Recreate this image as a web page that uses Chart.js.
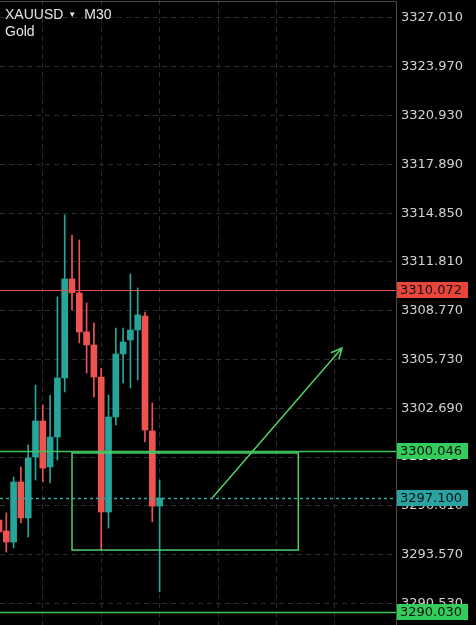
<!DOCTYPE html>
<html>
<head>
<meta charset="utf-8">
<script src="https://cdn.jsdelivr.net/npm/chart.js@4.4.1/dist/chart.umd.min.js"></script>
<style>
    html, body { margin: 0; padding: 0; background: #000; }
    #wrap { position: relative; width: 476px; height: 625px; }
    #title {
        position: absolute; left: 5px; top: 6px;
        color: #e6e6e6; font: 14px 'Liberation Sans', sans-serif; line-height: 17px;
    }
    #title .caret { font-size: 8px; vertical-align: 2px; margin: 0 8px 0 5px; }
</style>
</head>
<body>
<div id="wrap">
    <canvas id="chart"></canvas>
    <div id="title">XAUUSD<span class="caret">▼</span>M30<br>Gold</div>
</div>
<script>
// XAUUSD M30 candles
const opens  = [3295.73, 3295.05, 3294.36, 3298.10, 3295.86, 3299.66, 3301.90, 3299.04, 3300.90, 3304.58, 3310.75, 3309.88,
                3307.45, 3306.64, 3304.64, 3296.23, 3302.15, 3306.08, 3306.95, 3307.57, 3308.44, 3301.28, 3296.60];
const highs  = [3296.30, 3296.17, 3298.41, 3299.03, 3300.41, 3304.14, 3302.90, 3303.50, 3309.63, 3314.74, 3313.49, 3313.18,
                3309.25, 3308.01, 3305.20, 3303.52, 3307.69, 3307.69, 3311.06, 3310.19, 3308.69, 3303.02, 3298.22];
const lows   = [3294.50, 3293.74, 3293.99, 3295.55, 3294.67, 3298.22, 3298.10, 3298.04, 3299.47, 3303.71, 3308.82, 3306.76,
                3304.89, 3303.39, 3293.86, 3295.23, 3301.65, 3304.27, 3303.96, 3304.46, 3300.59, 3295.61, 3291.25];
const closes = [3294.99, 3294.36, 3298.10, 3295.86, 3299.60, 3301.90, 3298.97, 3300.90, 3304.58, 3310.75, 3309.88, 3307.45,
                3306.64, 3304.64, 3296.23, 3302.15, 3306.08, 3306.82, 3307.57, 3308.51, 3301.34, 3296.60, 3297.10];

// price axis
const yTicks = [3290.53, 3293.57, 3296.61, 3299.65, 3302.69, 3305.73, 3308.77,
                3311.81, 3314.85, 3317.89, 3320.93, 3323.97, 3327.01];
const yRange = [3289.19, 3328.13];
const xRange = [0.137, 54.38];        // candle index range visible
const gridCandles = [6, 14, 22, 30, 38, 46];

// horizontal levels: red resistance, green lines, current bid (dotted)
const levelPrices = [3310.072, 3300.046, 3297.100, 3290.030];
const levelKinds  = ['red', 'green', 'bid', 'green'];

// drawn objects
const zoneX  = [10, 41];
const zoneY  = [3293.86, 3299.91];
const arrowX = [29.2, 46.98];
const arrowY = [3297.10, 3306.45];

const UP = '#26a69a';
const DOWN = '#ef5350';
const levelStyle = {
    red:   { line: '#e0534c', box: '#e8453c', width: 1,   dash: [] },
    green: { line: '#3ec45c', box: '#34cc5a', width: 1.5, dash: [] },
    bid:   { line: '#3aa8a2', box: '#2aa3a3', width: 1.5, dash: [3, 3] }
};

const idx = closes.map((_, i) => i);
const candleColor = i => closes[i] >= opens[i] ? UP : DOWN;

const overlayPlugin = {
    id: 'overlay',
    afterDatasetsDraw(chart) {
        const { ctx, chartArea: a, scales: { x, y } } = chart;
        ctx.save();

        // zone box
        ctx.strokeStyle = '#4fd06b';
        ctx.lineWidth = 1.5;
        const zx0 = x.getPixelForValue(zoneX[0]), zx1 = x.getPixelForValue(zoneX[1]);
        const zy0 = y.getPixelForValue(zoneY[1]), zy1 = y.getPixelForValue(zoneY[0]);
        ctx.strokeRect(zx0, zy0, zx1 - zx0, zy1 - zy0);

        // arrow
        const ax0 = x.getPixelForValue(arrowX[0]), ay0 = y.getPixelForValue(arrowY[0]);
        const ax1 = x.getPixelForValue(arrowX[1]), ay1 = y.getPixelForValue(arrowY[1]);
        const ang = Math.atan2(ay1 - ay0, ax1 - ax0);
        ctx.beginPath();
        ctx.moveTo(ax0, ay0);
        ctx.lineTo(ax1, ay1);
        ctx.moveTo(ax1 - 12 * Math.cos(ang - 0.45), ay1 - 12 * Math.sin(ang - 0.45));
        ctx.lineTo(ax1, ay1);
        ctx.lineTo(ax1 - 12 * Math.cos(ang + 0.45), ay1 - 12 * Math.sin(ang + 0.45));
        ctx.stroke();

        // level lines
        levelPrices.forEach((p, i) => {
            const st = levelStyle[levelKinds[i]];
            const py = Math.round(y.getPixelForValue(p)) + 0.5;
            ctx.strokeStyle = st.line;
            ctx.lineWidth = st.width;
            ctx.setLineDash(st.dash);
            ctx.beginPath();
            ctx.moveTo(a.left, py);
            ctx.lineTo(a.right, py);
            ctx.stroke();
        });
        ctx.restore();
    },
    afterDraw(chart) {
        const { ctx, chartArea: a, scales: { y } } = chart;
        ctx.save();

        // frame
        ctx.strokeStyle = '#4a4a4a';
        ctx.lineWidth = 1;
        ctx.beginPath();
        ctx.moveTo(a.left, 1.5);
        ctx.lineTo(a.right + 0.5, 1.5);
        ctx.lineTo(a.right + 0.5, a.bottom);
        ctx.stroke();

        // price label boxes
        ctx.font = '13px "DejaVu Sans"';
        ctx.textBaseline = 'middle';
        levelPrices.forEach((p, i) => {
            const st = levelStyle[levelKinds[i]];
            const py = Math.round(y.getPixelForValue(p));
            ctx.fillStyle = st.box;
            ctx.fillRect(a.right + 1, py - 8, 71, 16);
            ctx.fillStyle = '#101010';
            ctx.fillText(p.toFixed(3), a.right + 4, py + 1);
        });
        ctx.restore();
    }
};

new Chart(document.getElementById('chart'), {
    type: 'bar',
    data: {
        datasets: [
            {
                label: 'wick',
                data: idx.map(i => ({ x: i, y: [lows[i], highs[i]] })),
                backgroundColor: idx.map(candleColor),
                barThickness: 1,
                grouped: false,
                order: 2
            },
            {
                label: 'body',
                data: idx.map(i => ({ x: i, y: [opens[i], closes[i]] })),
                backgroundColor: idx.map(candleColor),
                barThickness: 6,
                minBarLength: 1,
                grouped: false,
                order: 1
            }
        ]
    },
    options: {
        responsive: true,
        maintainAspectRatio: false,
        animation: false,
        layout: { padding: 0 },
        plugins: {
            legend: { display: false },
            tooltip: { enabled: false }
        },
        scales: {
            x: {
                type: 'linear',
                min: xRange[0],
                max: xRange[1],
                offset: false,
                afterBuildTicks: scale => { scale.ticks = gridCandles.map(v => ({ value: v })); },
                afterFit: scale => {
                    scale.height = 0;
                    scale.paddingLeft = 0;
                    scale.paddingRight = 0;
                },
                ticks: { display: false },
                grid: { color: '#2c2c2c', drawTicks: false, offset: false },
                border: { display: false, dash: [5, 4] }
            },
            y: {
                type: 'linear',
                position: 'right',
                min: yRange[0],
                max: yRange[1],
                beginAtZero: false,
                afterBuildTicks: scale => { scale.ticks = yTicks.map(v => ({ value: v })); },
                afterFit: scale => {
                    scale.width = 80;
                    scale.paddingTop = 0;
                    scale.paddingBottom = 0;
                },
                ticks: {
                    color: '#d2d2d2',
                    padding: 5,
                    autoSkip: false,
                    font: { family: 'DejaVu Sans', size: 13 },
                    callback: v => v.toFixed(3)
                },
                grid: { color: '#2c2c2c', drawTicks: false },
                border: { display: false, dash: [5, 4] }
            }
        }
    },
    plugins: [overlayPlugin]
});
</script>
</body>
</html>
